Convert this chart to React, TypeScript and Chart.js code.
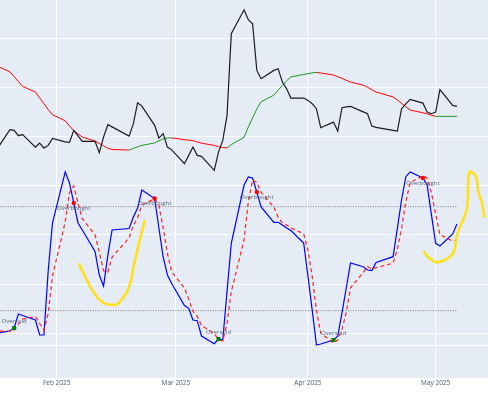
import React, { useEffect, useRef } from "react";
import { Chart, registerables } from "chart.js";

Chart.register(...registerables);

// ---- data ----
const dates = [
  "2025-01-17", "2025-01-21", "2025-01-22", "2025-01-23", "2025-01-24", "2025-01-27", "2025-01-28", "2025-01-29", "2025-01-30", "2025-01-31",
  "2025-02-03", "2025-02-04", "2025-02-05", "2025-02-06", "2025-02-07", "2025-02-10", "2025-02-11", "2025-02-12", "2025-02-13", "2025-02-14",
  "2025-02-18", "2025-02-19", "2025-02-20", "2025-02-21", "2025-02-24", "2025-02-25", "2025-02-26", "2025-02-27", "2025-02-28",
  "2025-03-03", "2025-03-04", "2025-03-05", "2025-03-06", "2025-03-07", "2025-03-10", "2025-03-11", "2025-03-12", "2025-03-13", "2025-03-14",
  "2025-03-17", "2025-03-18", "2025-03-19", "2025-03-20", "2025-03-21", "2025-03-24", "2025-03-25", "2025-03-26", "2025-03-27", "2025-03-28",
  "2025-03-31", "2025-04-01", "2025-04-02", "2025-04-03", "2025-04-04", "2025-04-07", "2025-04-08", "2025-04-09", "2025-04-10", "2025-04-11",
  "2025-04-14", "2025-04-15", "2025-04-16", "2025-04-17", "2025-04-21", "2025-04-22", "2025-04-23", "2025-04-24", "2025-04-25",
  "2025-04-28", "2025-04-29", "2025-04-30", "2025-05-01", "2025-05-02", "2025-05-05", "2025-05-06",
];

const closePrice = [
  136.18, 141.4, 141.26, 140.18, 140.39, 137.87, 138.68, 137.66, 138.21, 139.63,
  138.92, 138.82, 141.26, 140.14, 139.02, 139.02, 136.73, 139.9, 142.42, 141.97,
  140.1, 142.62, 146.89, 146.2, 142.28, 139.7, 140.59, 137.87, 137.3,
  134.49, 136.18, 137.87, 136.18, 135.98, 133.13, 136.85, 139.23, 144.31, 160.91,
  165.79, 163.76, 162.95, 153.46, 151.77, 153.46, 153.8, 151.08, 149.74, 147.83,
  147.83, 147.36, 146.69, 145.67, 141.81, 142.95, 141.12, 145.87, 146.04, 146.14,
  145.02, 144.65, 142.13, 141.87, 141.26, 141.12, 145.67, 146.65, 147.56,
  146.81, 144.98, 144.65, 144.98, 149.53, 146.34, 146.14,
];

const trendLine = [
  154.76, 153.17, 152.19, 151.2, 150.2, 149.06, 147.87, 146.69, 145.49, 144.45,
  143.21, 142.17, 141.2, 140.55, 139.92, 139.09, 138.6, 138.13, 137.64, 137.38,
  137.26, 137.58, 137.91, 138.21, 138.72, 139.13, 139.53, 139.69, 139.74,
  139.37, 139.27, 139.17, 138.92, 138.66, 138.21, 137.95, 137.76, 137.72, 138.37,
  139.84, 141.95, 143.8, 145.63, 147.07, 148.43, 149.45, 150.41, 151.34, 152.13,
  152.64, 152.78, 152.97, 153.05, 152.93, 152.52, 152.17, 151.83, 151.44, 151.1,
  150.45, 150.04, 149.55, 149.06, 148.07, 147.44, 146.77, 146.08, 145.41,
  144.84, 144.63, 144.35, 144.11, 144.11, 144.11, 144.11,
];

const stochK = [
  6.52, 8.25, 9.98, 18.06, 17.19, 14.6, 5.94, 5.94, 42.98, 70.56,
  100, 93.64, 82.1, 70.56, 66.52, 54.12, 40.56, 34.21, 51.87, 66.52,
  67.39, 74.02, 79.21, 89.6, 84.69, 67.67, 50.94, 40.56, 35.65,
  22.96, 21.35, 14.6, 14.19, 5.37, 0.92, 3.63, 3.06, 31.04, 58.85,
  92.48, 97.1, 96.52, 88.44, 79.79, 70.96, 70.96, 69.4, 67.67, 66.23,
  59.02, 39.98, 20.37, 0.17, 0.75, 3.06, 5.19, 18.87, 33.06, 47.48,
  45.35, 43.44, 43.16, 47.77, 51.12, 67.39, 84.12, 97.27, 100,
  96.52, 92.48, 75.41, 58.85, 57.29, 64.21, 69.98,
];

const stochD = [
  8.0, 8.3, 8.6, 12.1, 15.08, 16.62, 12.58, 8.83, 18.29, 39.83,
  71.18, 88.07, 91.91, 82.1, 73.06, 63.73, 53.73, 42.96, 42.21, 50.87,
  61.93, 69.31, 73.54, 80.94, 84.5, 80.65, 67.77, 53.06, 42.38,
  33.06, 26.65, 19.64, 16.71, 11.39, 6.83, 3.31, 2.54, 12.58, 30.98,
  60.79, 82.81, 95.37, 94.02, 88.25, 79.73, 73.9, 70.44, 69.34, 67.77,
  64.31, 55.08, 39.79, 20.17, 7.1, 1.33, 3.0, 9.04, 19.04, 33.14,
  41.96, 45.42, 43.98, 44.79, 47.35, 55.43, 67.54, 82.93, 93.8,
  97.93, 96.33, 88.14, 75.58, 63.85, 60.12, 60.5,
];

const overboughtLevel = 80;
const oversoldLevel = 20;
const overboughtDates = ["2025-02-05", "2025-02-24", "2025-03-20", "2025-04-28"];
const oversoldDates = ["2025-01-22", "2025-03-11", "2025-04-07"];

const tickDates = ["2025-02-01", "2025-03-01", "2025-04-01", "2025-05-01"];
const tickLabels = ["Feb 2025", "Mar 2025", "Apr 2025", "May 2025"];
const priceGrid = [100, 110, 120, 130, 140, 150, 160];

// hand-drawn yellow annotations: (days after 2025-02-01, stochastic value)
const sketch1Days = [5.31, 7.05, 8.6, 10.17, 11.74, 13.69, 14.87, 17.22, 18.15, 19.4, 20.62];
const sketch1Values = [46.7, 37.7, 30.9, 26.1, 23.7, 23.3, 25.2, 35.4, 46.3, 59.8, 71.7];
const sketch2Days = [86.33, 87.27, 89.24, 90.79, 92.53, 93.54, 93.94, 94.72, 95.89, 96.53, 96.67, 97.07, 97.84, 98.64, 99.01, 99.81, 100.42];
const sketch2Values = [53.7, 50.8, 47.9, 48.8, 51.5, 56.0, 62.7, 68.4, 75.2, 83.8, 95.4, 100.2, 99.2, 95.9, 88.6, 82.9, 74.2];

// ---- layout constants ----
const X_MIN = -13.32;
const X_MAX = 101.29;
const PRICE_MIN = 90.9;
const PRICE_MAX = 167.78;
const STOCH_MIN = -18.87;
const STOCH_MAX = 199.22;

const BASE = Date.UTC(2025, 1, 1);
const dayOf = (s: string) => {
  const [y, m, d] = s.split("-").map(Number);
  return (Date.UTC(y, m - 1, d) - BASE) / 86400000;
};

const xs = dates.map(dayOf);
const series = (vals: number[]) => vals.map((v, i) => ({ x: xs[i], y: v }));
const markerPts = (ds: string[]) =>
  ds.map((d) => {
    const i = dates.indexOf(d);
    return { x: xs[i], y: stochK[i] };
  });

const bgPlugin = {
  id: "plotBg",
  beforeDraw(chart: any) {
    const { ctx, chartArea } = chart;
    ctx.save();
    ctx.fillStyle = "#E5ECF6";
    ctx.fillRect(chartArea.left, chartArea.top, chartArea.right - chartArea.left, chartArea.bottom - chartArea.top);
    ctx.restore();
  },
};

const labelPlugin = {
  id: "signalLabels",
  afterDatasetsDraw(chart: any) {
    const ctx = chart.ctx;
    chart.data.datasets.forEach((ds: any, i: number) => {
      if (ds.textOffset === undefined) return;
      const meta = chart.getDatasetMeta(i);
      ctx.save();
      ctx.font = "6px 'Open Sans', sans-serif";
      ctx.fillStyle = "#5a6a80";
      ctx.textAlign = "center";
      ctx.textBaseline = "middle";
      meta.data.forEach((pt: any) => ctx.fillText(ds.label, pt.x, pt.y + ds.textOffset));
      ctx.restore();
    });
  },
};

export default function App() {
  const ref = useRef<HTMLCanvasElement | null>(null);

  useEffect(() => {
    document.body.style.margin = "0";
    const canvas = ref.current;
    if (!canvas) return;

    const chart = new Chart(canvas, {
      type: "line",
      data: {
        datasets: [
          {
            label: "Overbought level",
            data: series(dates.map(() => overboughtLevel)),
            yAxisID: "y2",
            borderColor: "#7f7f7f",
            borderWidth: 1,
            borderDash: [1, 1.5],
            pointRadius: 0,
            order: 10,
          },
          {
            label: "Oversold level",
            data: series(dates.map(() => oversoldLevel)),
            yAxisID: "y2",
            borderColor: "#7f7f7f",
            borderWidth: 1,
            borderDash: [1, 1.5],
            pointRadius: 0,
            order: 10,
          },
          {
            label: "Trend",
            data: series(trendLine),
            yAxisID: "y",
            borderColor: "red",
            borderWidth: 1,
            pointRadius: 0,
            segment: {
              borderColor: (c: any) => (c.p1.parsed.y >= c.p0.parsed.y ? "#1a9a1a" : "#ff0000"),
            },
            order: 8,
          },
          {
            label: "Close",
            data: series(closePrice),
            yAxisID: "y",
            borderColor: "#1c1c1c",
            borderWidth: 1.2,
            pointRadius: 0,
            order: 7,
          },
          {
            label: "%K",
            data: series(stochK),
            yAxisID: "y2",
            borderColor: "#0000ff",
            borderWidth: 1.2,
            pointRadius: 0,
            order: 6,
          },
          {
            label: "%D",
            data: series(stochD),
            yAxisID: "y2",
            borderColor: "#ff2020",
            borderWidth: 1.2,
            borderDash: [4, 3],
            pointRadius: 0,
            order: 5,
          },
          {
            label: "Overbought",
            data: markerPts(overboughtDates),
            yAxisID: "y2",
            showLine: false,
            pointStyle: "circle",
            pointRadius: 2.2,
            pointBackgroundColor: "#ff0000",
            pointBorderWidth: 0,
            textOffset: 5,
            order: 2,
          } as any,
          {
            label: "Oversold",
            data: markerPts(oversoldDates),
            yAxisID: "y2",
            showLine: false,
            pointStyle: "rect",
            pointRadius: 2.8,
            pointBackgroundColor: "#008000",
            pointBorderWidth: 0,
            textOffset: -7,
            order: 2,
          } as any,
          {
            label: "sketch 1",
            data: sketch1Days.map((d, i) => ({ x: d, y: sketch1Values[i] })),
            yAxisID: "y2",
            borderColor: "#ffe11a",
            borderWidth: 2.6,
            borderCapStyle: "round",
            borderJoinStyle: "round",
            cubicInterpolationMode: "monotone",
            pointRadius: 0,
            order: 1,
          },
          {
            label: "sketch 2",
            data: sketch2Days.map((d, i) => ({ x: d, y: sketch2Values[i] })),
            yAxisID: "y2",
            borderColor: "#ffe11a",
            borderWidth: 2.6,
            borderCapStyle: "round",
            borderJoinStyle: "round",
            cubicInterpolationMode: "monotone",
            pointRadius: 0,
            order: 1,
          },
        ],
      },
      options: {
        responsive: false,
        animation: false,
        layout: { padding: 0, autoPadding: false },
        plugins: { legend: { display: false }, tooltip: { enabled: false } },
        scales: {
          x: {
            type: "linear",
            min: X_MIN,
            max: X_MAX,
            afterBuildTicks: (s: any) => {
              s.ticks = tickDates.map((d) => ({ value: dayOf(d) }));
            },
            afterFit: (s: any) => {
              s.height = 15;
            },
            ticks: {
              callback: (_v: any, i: number) => tickLabels[i],
              autoSkip: false,
              maxRotation: 0,
              padding: 1,
              color: "#4a5a70",
              font: { family: "'Open Sans', sans-serif", size: 6.5 },
            },
            grid: { color: "#ffffff", lineWidth: 1, drawTicks: false },
            border: { display: false },
          },
          y: {
            type: "linear",
            position: "left",
            min: PRICE_MIN,
            max: PRICE_MAX,
            afterBuildTicks: (s: any) => {
              s.ticks = priceGrid.map((v) => ({ value: v }));
            },
            afterFit: (s: any) => {
              s.width = 0;
            },
            ticks: { display: false },
            grid: { color: "#ffffff", lineWidth: 1, drawTicks: false },
            border: { display: false },
          },
          y2: {
            type: "linear",
            position: "left",
            min: STOCH_MIN,
            max: STOCH_MAX,
            afterBuildTicks: (s: any) => {
              s.ticks = [{ value: 0 }];
            },
            afterFit: (s: any) => {
              s.width = 0;
            },
            ticks: { display: false },
            grid: { color: "#ffffff", lineWidth: 1, drawTicks: false },
            border: { display: false },
          },
        },
      } as any,
      plugins: [bgPlugin, labelPlugin],
    });

    return () => chart.destroy();
  }, []);

  return (
    <div style={{ width: 488, height: 393 }}>
      <canvas ref={ref} width={488} height={393} style={{ display: "block" }} />
    </div>
  );
}
